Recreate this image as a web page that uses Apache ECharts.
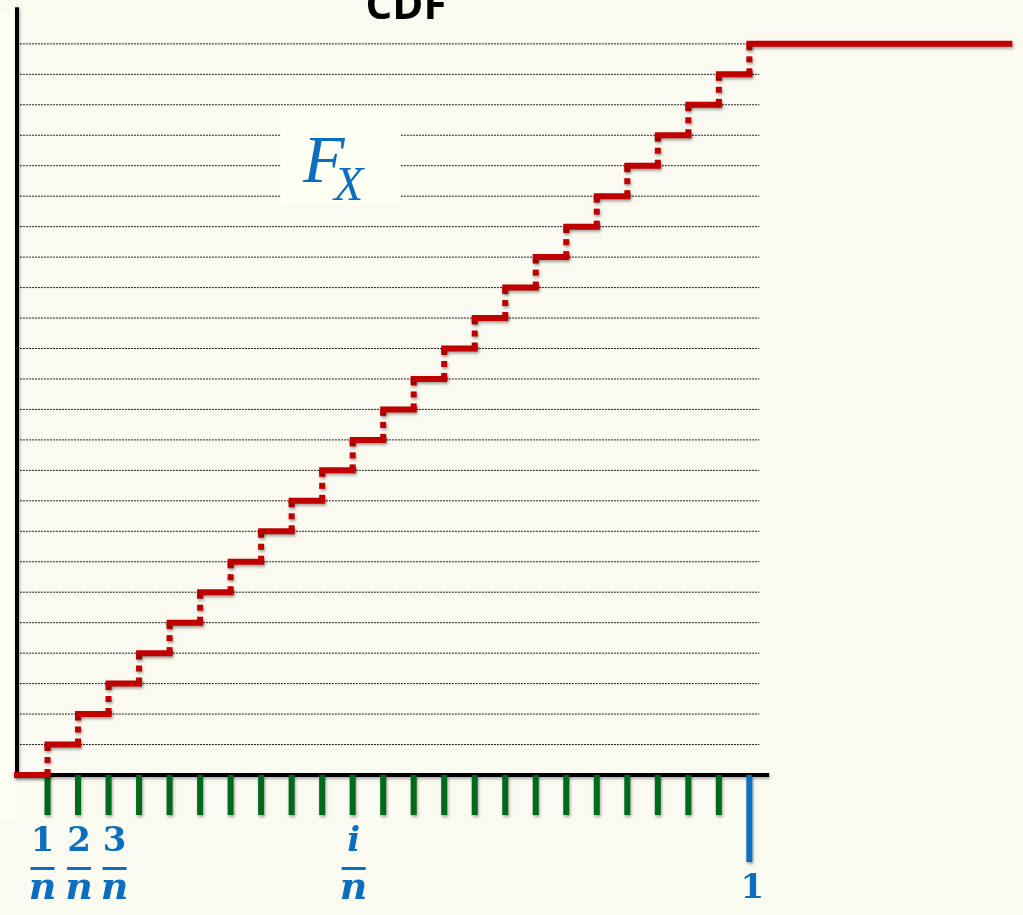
<!DOCTYPE html>
<html>
<head>
<meta charset="utf-8">
<script src="https://cdn.jsdelivr.net/npm/echarts@6/dist/echarts.min.js"></script>
<style>
html,body{margin:0;padding:0;background:#FAFAF0;}
#chart{width:1023px;height:915px;}
</style>
</head>
<body>
<div id="chart"></div>
<script>
// ---- data ----
const titleText = 'CDF';
const seriesLabel = 'F';
const seriesSub = 'X';
// jump locations x = k/n (n = 24)
const jumpX = [1/24, 2/24, 3/24, 4/24, 5/24, 6/24, 7/24, 8/24, 9/24, 10/24, 11/24, 12/24,
               13/24, 14/24, 15/24, 16/24, 17/24, 18/24, 19/24, 20/24, 21/24, 22/24, 23/24, 24/24];
// CDF level after each jump (level 0 before the first jump)
const cdfLevels = [0, 1/24, 2/24, 3/24, 4/24, 5/24, 6/24, 7/24, 8/24, 9/24, 10/24, 11/24, 12/24,
                   13/24, 14/24, 15/24, 16/24, 17/24, 18/24, 19/24, 20/24, 21/24, 22/24, 23/24, 24/24];
const xStart = 0;
const xEnd = 1.355;
// tick labels
const labelTickIndex = [0, 1, 2, 10, 23];
const labelNum = ['1', '2', '3', 'i', '1'];
const labelDen = ['n', 'n', 'n', 'n', ''];
const labelShift = [-5, 1, 6, 1, 3];

// ---- build ----
const RED = '#C00000', GREEN = '#006A1C', BLUE = '#0B6FC0';
const shadow = {shadowBlur: 3, shadowColor: 'rgba(0,0,0,0.35)', shadowOffsetX: 1, shadowOffsetY: 2};

const horiz = [];
for (let k = 0; k < cdfLevels.length; k++) {
  const x0 = k === 0 ? xStart : jumpX[k - 1];
  const x1 = k < jumpX.length ? jumpX[k] : xEnd;
  horiz.push([x0, cdfLevels[k], x1, cdfLevels[k]]);
}
const risers = [];
for (let k = 1; k < cdfLevels.length; k++) {
  risers.push([jumpX[k - 1], cdfLevels[k - 1], jumpX[k - 1], cdfLevels[k]]);
}
const gridLines = [];
for (let k = 1; k < cdfLevels.length; k++) {
  gridLines.push([0.004, cdfLevels[k], 1.0136, cdfLevels[k]]);
}
const axisLines = [[-0.003, 0, 1.027, 0], [0, 0, 0, 1.05]];

function segSeries(data, style, z) {
  return {
    type: 'custom', z: z, clip: false, silent: true,
    data: data,
    renderItem: function (params, api) {
      const p0 = api.coord([api.value(0), api.value(1)]);
      const p1 = api.coord([api.value(2), api.value(3)]);
      return {type: 'line', shape: {x1: p0[0], y1: p0[1], x2: p1[0], y2: p1[1]}, style: style};
    }
  };
}
function tickSeries(data, len, color) {
  return {
    type: 'custom', z: 4, clip: false, silent: true,
    data: data.map(v => [v, 0]),
    renderItem: function (params, api) {
      const p = api.coord([api.value(0), 0]);
      return {type: 'rect', shape: {x: p[0] - 3, y: p[1], width: 6, height: len},
        style: Object.assign({fill: color}, shadow)};
    }
  };
}

const labelData = labelTickIndex.map((ti, i) => [jumpX[ti], 0, i]);
const labelSeries = {
  type: 'custom', z: 6, clip: false, silent: true,
  data: labelData,
  renderItem: function (params, api) {
    const i = api.value(2);
    const p = api.coord([api.value(0), 0]);
    const cx = p[0] + labelShift[i];
    const children = [];
    if (labelDen[i]) {
      children.push({type: 'text', style: {x: cx, y: p[1] + 67, text: labelNum[i], fill: BLUE,
        font: (labelNum[i] === 'i' ? 'italic ' : '') + 'bold 34px "DejaVu Serif"', textAlign: 'center', textVerticalAlign: 'middle'}});
      children.push({type: 'rect', shape: {x: cx - 12, y: p[1] + 92, width: 24, height: 3}, style: {fill: BLUE}});
      children.push({type: 'text', style: {x: cx, y: p[1] + 114, text: labelDen[i], fill: BLUE,
        font: 'italic bold 38px "DejaVu Serif"', textAlign: 'center', textVerticalAlign: 'middle'}});
    } else {
      children.push({type: 'text', style: {x: cx, y: p[1] + 114, text: labelNum[i], fill: BLUE,
        font: 'bold 34px "DejaVu Serif"', textAlign: 'center', textVerticalAlign: 'middle'}});
    }
    return {type: 'group', children: children};
  }
};

const chart = echarts.init(document.getElementById('chart'), null, {renderer: 'canvas'});
chart.setOption({
  backgroundColor: '#FAFAF0',
  animation: false,
  grid: {left: 17, right: 10, top: 0, bottom: 140},
  xAxis: {type: 'value', min: 0, max: 1.36, show: false},
  yAxis: {type: 'value', min: 0, max: 1.06, show: false},
  graphic: [
    {type: 'rect', z: 0, zlevel: 0, shape: {x: 0, y: 10, width: 15, height: 810}, style: {fill: '#FFFEF3'}},
    {type: 'rect', z: 50, shape: {x: 281, y: 109, width: 120, height: 97}, style: {fill: '#FFFEF3'}},
    {type: 'text', z: 60, style: {x: 303, y: 164, text: seriesLabel, fill: BLUE,
      font: 'italic 68px "Liberation Serif"', textVerticalAlign: 'middle'}},
    {type: 'text', z: 60, style: {x: 334, y: 187, text: seriesSub, fill: BLUE,
      font: 'italic 48px "Liberation Serif"', textVerticalAlign: 'middle'}},
    {type: 'text', z: 60, style: {x: 406, y: 7, text: titleText, fill: '#000',
      font: 'bold 42px "Open Sans"', textAlign: 'center', textVerticalAlign: 'middle'}}
  ],
  series: [
    segSeries(gridLines, {stroke: '#222', lineWidth: 1, lineDash: [2, 1]}, 1),
    segSeries(axisLines, Object.assign({stroke: '#000', lineWidth: 4}, {shadowBlur: 3, shadowColor: 'rgba(0,0,0,0.3)', shadowOffsetX: 1, shadowOffsetY: 2}), 3),
    tickSeries(jumpX.slice(0, 23), 40, GREEN),
    tickSeries(jumpX.slice(23), 87, BLUE),
    segSeries(risers, Object.assign({stroke: RED, lineWidth: 6, lineDash: [6, 6], lineCap: 'butt'}, shadow), 5),
    segSeries(horiz, Object.assign({stroke: RED, lineWidth: 6, lineCap: 'square'}, shadow), 5),
    labelSeries
  ]
});
</script>
</body>
</html>
